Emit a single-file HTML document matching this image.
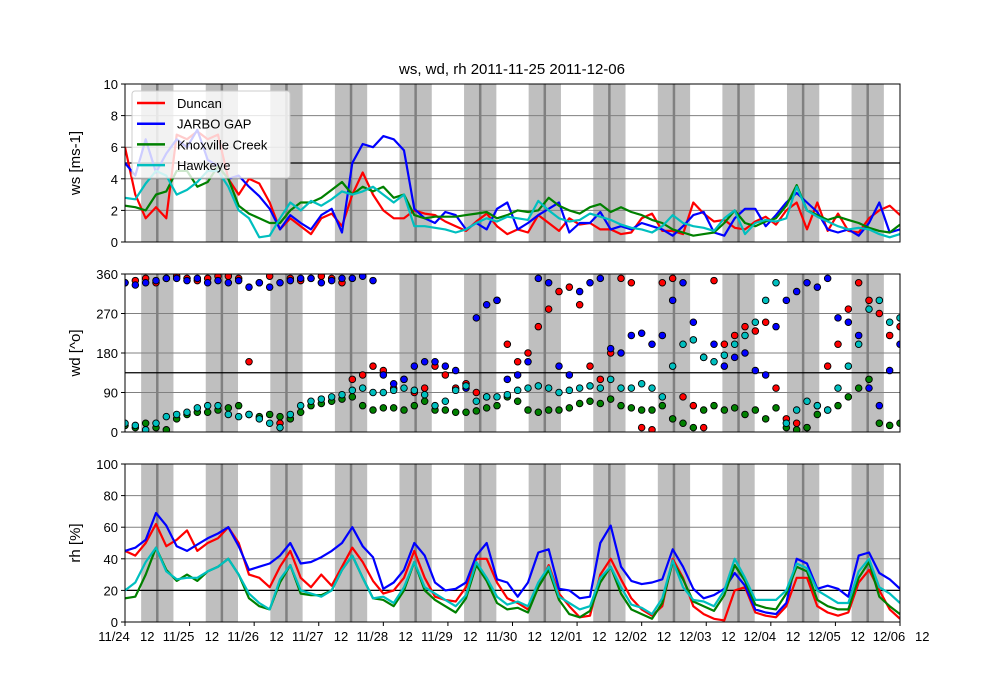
<!DOCTYPE html>
<html><head><meta charset="utf-8"><style>
body{margin:0;background:#fff}
svg{display:block;font-family:"Liberation Sans","DejaVu Sans",sans-serif}
</style></head><body>
<svg id="c" width="1000" height="700"></svg>
<script>
const seriesNames=["Duncan","JARBO GAP","Knoxville Creek","Hawkeye"];
const seriesColors=["#ff0000","#0000ff","#008000","#00bfbf"];
const dateLabels=["11/24","11/25","11/26","11/27","11/28","11/29","11/30","12/01","12/02","12/03","12/04","12/05","12/06"];
const wsTicks=[0,2,4,6,8,10];
const wdTicks=[0,90,180,270,360];
const rhTicks=[0,20,40,60,80,100];
const refLines=[5,135,20];
const wsDuncan=[6.0,3.0,1.5,2.2,1.5,6.8,6.5,7.0,6.5,6.8,4.0,3.0,4.0,3.7,2.5,0.8,1.5,1.0,0.5,1.5,1.8,1.0,3.0,4.4,3.0,2.0,1.5,1.5,2.0,1.8,1.7,1.3,1.0,0.7,1.3,1.8,1.0,0.5,0.8,0.6,1.7,1.2,0.7,1.5,1.1,1.2,0.8,0.8,0.5,0.6,1.5,1.8,0.7,0.7,0.5,2.5,1.8,1.3,1.4,0.9,0.8,1.3,1.6,1.1,2.0,2.5,0.8,2.5,0.7,1.8,0.7,0.6,1.5,2.0,2.3,1.7];
const wsJarbo=[5.0,4.2,6.5,4.4,5.6,6.5,6.0,7.1,5.2,4.8,4.0,4.2,3.5,2.9,2.1,0.8,1.7,1.2,0.8,1.7,2.1,0.6,5.0,6.2,6.0,6.7,6.5,5.8,2.1,1.5,1.2,1.9,1.7,0.8,1.2,0.8,2.1,2.5,0.8,1.2,1.7,2.1,2.5,0.6,1.2,1.2,1.9,0.8,1.0,0.8,1.2,1.0,0.8,0.4,1.0,1.7,1.9,0.6,0.4,1.5,2.1,2.1,1.0,1.7,2.5,3.1,2.5,1.9,0.8,0.6,0.8,0.4,1.2,2.5,0.6,0.8];
const wsKnox=[2.3,2.2,2.0,3.0,3.2,4.5,4.5,3.5,3.8,4.8,4.0,2.3,1.8,1.5,1.2,1.2,2.0,2.5,2.5,2.8,3.3,3.8,3.0,3.5,3.2,3.5,2.8,3.0,1.7,1.5,1.6,1.6,1.6,1.7,1.8,1.9,1.5,1.7,2.0,1.9,2.0,2.8,2.3,2.0,1.8,2.2,2.4,1.9,2.2,1.9,1.7,1.4,1.2,0.8,0.6,0.4,0.5,0.6,1.2,2.0,1.2,1.0,1.3,1.5,2.3,3.6,2.0,1.7,1.4,1.6,1.4,1.2,0.9,0.7,0.6,1.1];
const wsHawk=[2.8,2.7,3.7,4.5,4.2,3.0,3.3,3.8,4.5,4.5,3.5,2.0,1.5,0.3,0.4,1.5,2.5,2.0,2.6,2.3,2.7,3.2,3.0,3.2,3.5,3.0,2.5,3.0,1.0,1.0,0.9,0.8,0.6,0.8,1.2,1.5,1.3,1.6,1.5,1.4,2.6,2.0,1.5,1.3,1.4,1.8,1.6,1.4,1.1,0.9,0.8,0.6,1.0,1.7,1.2,1.0,0.9,0.7,1.5,2.0,0.5,1.2,1.4,1.3,1.5,3.5,2.0,1.6,1.3,1.0,0.8,0.9,0.8,0.5,0.3,0.5];
const wdDuncan=[340,345,350,340,350,355,350,345,350,355,355,350,160,340,355,20,350,345,350,355,350,340,120,130,150,140,100,120,90,100,150,130,100,110,90,80,300,200,160,180,240,280,320,330,290,150,120,180,350,340,10,5,340,350,80,60,10,345,200,220,240,230,250,100,30,20,10,60,150,200,280,340,300,270,220,240];
const wdJarbo=[340,335,340,345,350,350,345,350,340,345,340,345,330,340,330,340,345,350,350,340,345,350,350,355,345,130,110,120,150,160,160,150,140,100,260,290,300,120,130,160,350,340,150,130,320,340,350,190,180,220,225,200,220,300,340,250,170,200,150,170,180,140,130,240,300,320,340,330,350,260,250,220,100,60,140,200];
const wdKnox=[15,10,20,10,5,30,40,45,45,50,55,60,40,35,40,35,30,45,60,65,70,75,80,60,50,55,55,50,60,70,50,50,45,45,48,55,60,80,70,50,45,50,50,55,65,70,65,75,60,55,50,50,60,30,20,10,50,60,50,55,40,50,30,55,10,5,10,40,50,60,80,100,120,20,15,20];
const wdHawk=[20,15,5,20,35,40,45,55,60,60,40,35,40,30,20,10,40,60,70,75,80,85,95,100,90,90,95,100,95,85,60,70,95,105,70,80,80,85,95,100,105,100,90,95,100,105,100,120,100,100,110,100,80,150,200,210,170,160,175,200,220,250,300,340,20,50,70,60,50,100,150,200,280,300,250,260];
const rhDuncan=[45,42,50,62,48,52,58,45,50,53,60,50,30,28,22,35,45,28,22,30,23,35,47,38,26,18,20,28,45,28,16,14,13,22,40,40,25,15,12,8,22,36,18,10,3,4,30,40,27,15,8,4,10,40,28,10,5,2,1,20,22,6,4,3,10,28,28,10,6,4,6,25,33,20,8,2];
const rhJarbo=[45,47,52,69,61,48,45,49,53,56,60,48,33,35,37,42,50,37,38,41,45,50,60,48,41,21,25,33,50,42,25,20,21,25,42,50,27,25,16,25,44,46,21,20,15,16,50,61,35,26,24,25,27,46,35,21,15,17,21,31,23,8,6,5,12,40,37,21,23,21,16,42,44,31,27,21];
const rhKnox=[15,16,30,47,33,26,30,26,32,35,40,30,15,10,8,25,36,18,17,17,20,33,42,28,15,14,10,20,38,20,14,10,6,15,36,26,12,8,9,6,22,33,14,5,3,7,25,35,18,8,5,2,12,38,27,13,10,7,17,36,26,11,9,8,18,35,32,14,10,8,8,28,38,16,10,5];
const rhHawk=[20,25,38,47,32,27,28,28,32,35,40,30,18,12,8,27,36,20,18,16,20,33,42,28,15,16,12,22,38,22,18,14,10,17,38,28,16,11,13,10,25,35,16,12,8,10,28,35,22,11,9,5,15,39,22,14,13,10,20,40,28,14,14,14,20,37,34,20,16,12,12,32,40,22,18,12];

const NS="http://www.w3.org/2000/svg";
const svg=document.getElementById('c');
const X0=125,X1=900,HOURS=288;
function mk(tag,attrs,parent){const e=document.createElementNS(NS,tag);for(const k in attrs)e.setAttribute(k,attrs[k]);(parent||svg).appendChild(e);return e;}
function xHour(h){return X0+h*(X1-X0)/HOURS;}
function xIdx(i,n){return xHour(i*HOURS/(n-1));}

const panels=[
 {top:84,bot:242,max:10,ticks:wsTicks,label:"ws [ms-1]",name:"ws-panel",ref:refLines[0],type:"line",data:[wsDuncan,wsJarbo,wsKnox,wsHawk]},
 {top:274,bot:432,max:360,ticks:wdTicks,label:"wd [^o]",name:"wd-panel",ref:refLines[1],type:"scatter",data:[wdDuncan,wdJarbo,wdKnox,wdHawk]},
 {top:464,bot:622,max:100,ticks:rhTicks,label:"rh [%]",name:"rh-panel",ref:refLines[2],type:"line",data:[rhDuncan,rhJarbo,rhKnox,rhHawk]}
];

const title=mk('text',{x:512,y:74,'text-anchor':'middle','font-size':15});
title.textContent="ws, wd, rh 2011-11-25 2011-12-06";



panels.forEach((p,pi)=>{
  const g=mk('g',{});
  
  
  const y=v=>p.bot-v*(p.bot-p.top)/p.max;
  const clipId='clip'+pi;
  const cp=mk('clipPath',{id:clipId},g);mk('rect',{x:X0,y:p.top,width:X1-X0,height:p.bot-p.top},cp);
  // night/day bands
  for(let d=0;d<12;d++){
    const b=mk('rect',{x:xHour(d*24+6),y:p.top,width:xHour(d*24+18)-xHour(d*24+6),height:p.bot-p.top,fill:'#bfbfbf'},g);
    
    
    const l=mk('line',{x1:xHour(d*24+12),x2:xHour(d*24+12),y1:p.top,y2:p.bot,stroke:'#808080','stroke-width':2.5},g);
    
    
  }
  // grid + ticks
  p.ticks.forEach(t=>{
    const yy=y(t);
    mk('line',{x1:X0,x2:X1,y1:yy,y2:yy,stroke:'#808080','stroke-width':1},g);
    mk('line',{x1:X0-4,x2:X0,y1:yy,y2:yy,stroke:'#000'},g);
    const tl=mk('text',{x:X0-7,y:yy+5,'text-anchor':'end','font-size':13},g);
    tl.textContent=t;
    
    
  });
  const rl=mk('line',{x1:X0,x2:X1,y1:y(p.ref),y2:y(p.ref),stroke:'#000','stroke-width':1.3},g);
  
  
  const sg=mk('g',{'clip-path':'url(#'+clipId+')'},g);
  p.data.forEach((arr,si)=>{
    if(p.type==='line'){
      const pts=arr.map((v,i)=>xIdx(i,arr.length).toFixed(1)+','+y(v).toFixed(1)).join(' ');
      const pl=mk('polyline',{points:pts,fill:'none',stroke:seriesColors[si],'stroke-width':2.2,'stroke-linejoin':'round'},sg);
      
      
    }else{
      arr.forEach((v,i)=>{
        const c=mk('circle',{cx:xIdx(i,arr.length),cy:y(v),r:3.3,fill:seriesColors[si],stroke:'#000','stroke-width':0.9},sg);
        
        
      });
    }
  });
  mk('rect',{x:X0,y:p.top,width:X1-X0,height:p.bot-p.top,fill:'none',stroke:'#000','stroke-width':1},g);
  const yl=mk('text',{x:0,y:0,'text-anchor':'middle','font-size':15,transform:`translate(80,${(p.top+p.bot)/2}) rotate(-90)`},g);
  yl.textContent=p.label;
  
  
});

// x axis labels
dateLabels.forEach((d,i)=>{
  const x=xHour(i*24);
  mk('line',{x1:x,x2:x,y1:622,y2:626,stroke:'#000'});
  const t=mk('text',{x:x-11,y:641,'text-anchor':'middle','font-size':13});
  t.textContent=d;
  
  
  const n=mk('text',{x:xHour(i*24+12)-10,y:641,'text-anchor':'middle','font-size':13});
  n.textContent="12";
  
  
});

// legend
const lg=mk('g',{});


mk('rect',{x:132,y:91,width:158,height:87,rx:3,fill:'#fff','fill-opacity':0.8,stroke:'#cccccc'},lg);
seriesNames.forEach((n,i)=>{
  const yy=103+i*20.7;
  mk('line',{x1:137,x2:165,y1:yy,y2:yy,stroke:seriesColors[i],'stroke-width':2.5},lg);
  const t=mk('text',{x:177,y:yy+5,'font-size':13},lg);
  t.textContent=n;
  
  
});
</script>
</body></html>
